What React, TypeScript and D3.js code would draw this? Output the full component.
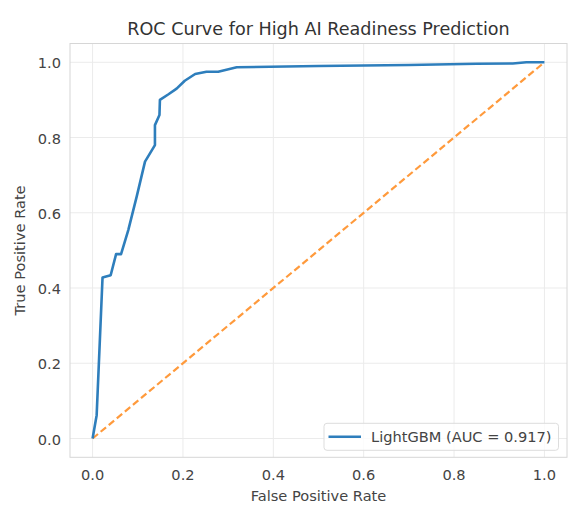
import React, { useEffect, useRef } from "react";
import * as d3 from "d3";

const fpr = [0, 0.009, 0.022, 0.04, 0.052, 0.063, 0.079, 0.098, 0.116, 0.138, 0.138, 0.148, 0.149, 0.168, 0.186, 0.204, 0.227, 0.252, 0.278, 0.319, 0.5, 0.7, 0.85, 0.93, 0.96, 1.0];
const tpr = [0, 0.062, 0.428, 0.434, 0.49, 0.49, 0.554, 0.645, 0.736, 0.78, 0.833, 0.86, 0.9, 0.915, 0.93, 0.951, 0.969, 0.975, 0.975, 0.987, 0.99, 0.993, 0.996, 0.997, 1.0, 1.0];
const chanceLine = [0, 1];
const tickValues = [0, 0.2, 0.4, 0.6, 0.8, 1.0];
const title = "ROC Curve for High AI Readiness Prediction";
const xLabel = "False Positive Rate";
const yLabel = "True Positive Rate";
const legendLabel = "LightGBM (AUC = 0.917)";

const W = 568;
const H = 510;
const font = "DejaVu Sans, sans-serif";
const fs = 14.6;

export default function App() {
  const svgRef = useRef<SVGSVGElement>(null);

  useEffect(() => {
    const svg = d3.select(svgRef.current);
    svg.selectAll("*").remove();

    // axes box spans -0.05..1.05 like matplotlib's default margins
    const x = d3.scaleLinear().domain([-0.05, 1.05]).range([70, 567]);
    const y = d3.scaleLinear().domain([-0.05, 1.05]).range([457.3, 43.5]);

    svg.append("rect").attr("width", W).attr("height", H).attr("fill", "#fff");

    // grid
    const grid = svg.append("g");
    tickValues.forEach((t) => {
      grid.append("line")
        .attr("x1", x(t)).attr("x2", x(t))
        .attr("y1", y(-0.05)).attr("y2", y(1.05))
        .attr("stroke", "#ebebeb").attr("stroke-width", 1);
      grid.append("line")
        .attr("x1", x(-0.05)).attr("x2", x(1.05))
        .attr("y1", y(t)).attr("y2", y(t))
        .attr("stroke", "#ebebeb").attr("stroke-width", 1);
    });

    // frame
    svg.append("rect")
      .attr("x", x(-0.05)).attr("y", y(1.05))
      .attr("width", x(1.05) - x(-0.05)).attr("height", y(-0.05) - y(1.05))
      .attr("fill", "none").attr("stroke", "#d6d6d6").attr("stroke-width", 1);

    // tick labels
    tickValues.forEach((t) => {
      svg.append("text")
        .attr("x", x(t)).attr("y", y(-0.05) + 23)
        .attr("text-anchor", "middle")
        .attr("font-family", font).attr("font-size", fs)
        .attr("fill", "#444")
        .text(t.toFixed(1));
      svg.append("text")
        .attr("x", x(-0.05) - 9).attr("y", y(t) + 1).attr("dy", "0.35em")
        .attr("text-anchor", "end")
        .attr("font-family", font).attr("font-size", fs)
        .attr("fill", "#444")
        .text(t.toFixed(1));
    });

    // diagonal
    svg.append("path")
      .attr("d", d3.line<number>().x((d) => x(d)).y((d) => y(d))(chanceLine) || "")
      .attr("fill", "none")
      .attr("stroke", "#ff9a3c")
      .attr("stroke-width", 2.2)
      .attr("stroke-dasharray", "7,3.5");

    // ROC curve
    const pts: [number, number][] = fpr.map((f, i) => [f, tpr[i]]);
    svg.append("path")
      .attr("d", d3.line().x((d) => x(d[0])).y((d) => y(d[1]))(pts) || "")
      .attr("fill", "none")
      .attr("stroke", "#2e7ebc")
      .attr("stroke-width", 2.6)
      .attr("stroke-linejoin", "round");

    // title and axis labels
    svg.append("text")
      .attr("x", (x(-0.05) + x(1.05)) / 2).attr("y", 35)
      .attr("text-anchor", "middle")
      .attr("font-family", font).attr("font-size", 17.6)
      .attr("fill", "#333")
      .text(title);
    svg.append("text")
      .attr("x", (x(-0.05) + x(1.05)) / 2).attr("y", 501)
      .attr("text-anchor", "middle")
      .attr("font-family", font).attr("font-size", fs)
      .attr("fill", "#444")
      .text(xLabel);
    svg.append("text")
      .attr("transform", `translate(24.5,${(y(-0.05) + y(1.05)) / 2}) rotate(-90)`)
      .attr("text-anchor", "middle")
      .attr("font-family", font).attr("font-size", fs)
      .attr("fill", "#444")
      .text(yLabel);

    // legend
    const lg = svg.append("g").attr("transform", "translate(324,423.3)");
    lg.append("rect")
      .attr("width", 234.5).attr("height", 27).attr("rx", 3)
      .attr("fill", "#fff").attr("fill-opacity", 0.8)
      .attr("stroke", "#ddd");
    lg.append("line")
      .attr("x1", 4.5).attr("x2", 37).attr("y1", 13.4).attr("y2", 13.4)
      .attr("stroke", "#2e7ebc").attr("stroke-width", 2.6);
    lg.append("text")
      .attr("x", 47).attr("y", 18.4)
      .attr("font-family", font).attr("font-size", fs)
      .attr("fill", "#444")
      .text(legendLabel);
  }, []);

  return (
    <svg
      ref={svgRef}
      width={W}
      height={H}
      style={{ position: "absolute", left: 0, top: 0, display: "block" }}
    />
  );
}
